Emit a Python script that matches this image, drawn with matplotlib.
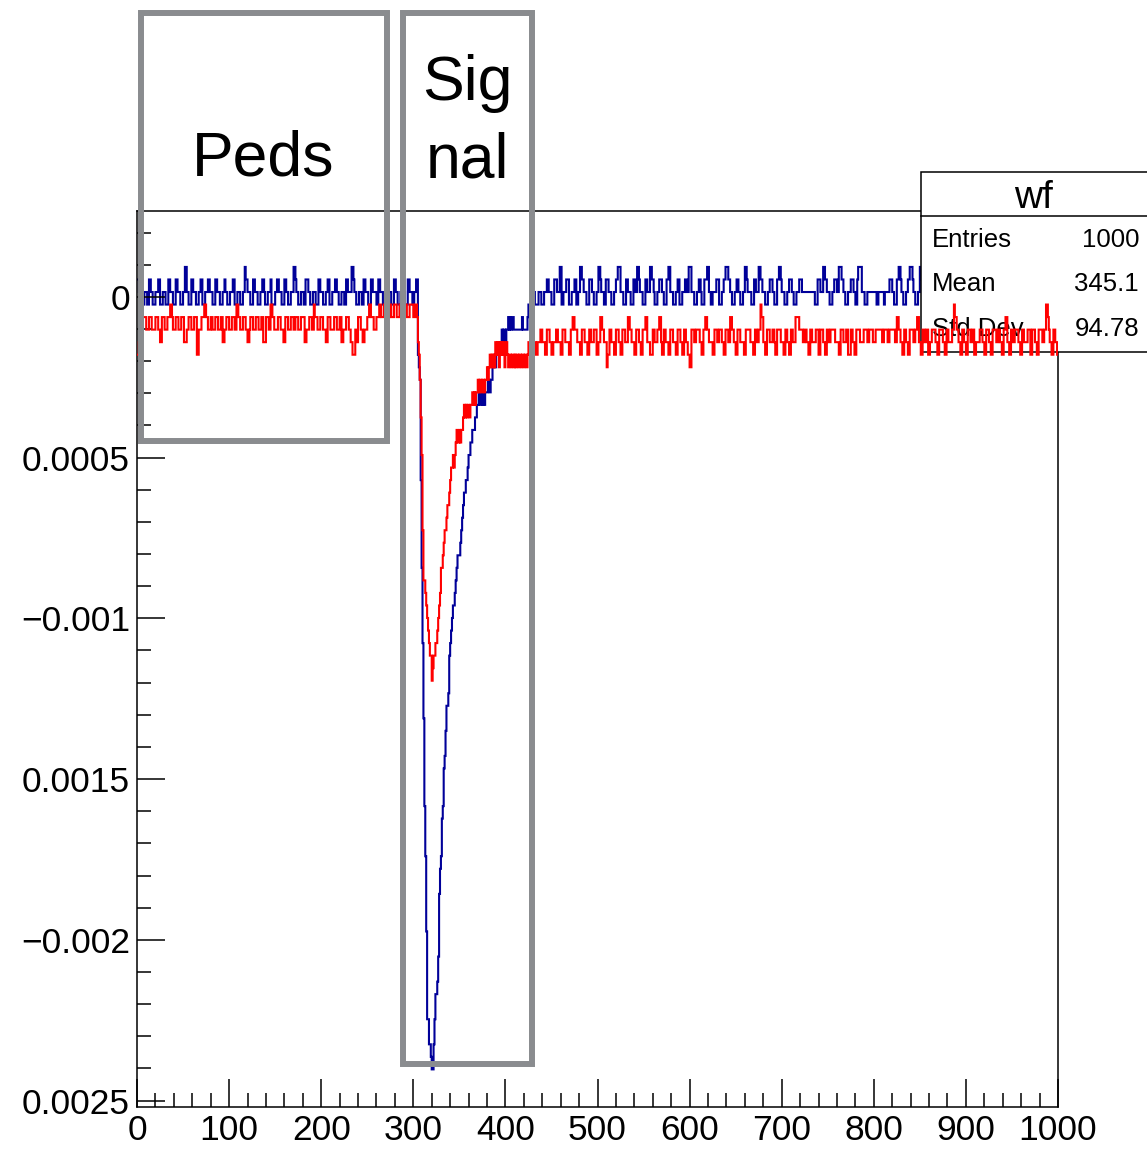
import numpy as np
import matplotlib
matplotlib.use('Agg')
import matplotlib.pyplot as plt
from matplotlib.patches import Rectangle
from matplotlib.lines import Line2D
from matplotlib.ticker import MultipleLocator

plt.rcParams['font.family'] = ['Liberation Sans', 'DejaVu Sans']

# waveform samples are stored as adc steps: value = OFFSET + k * STEP
OFFSET = 1.5e-5
STEP = 3.9e-5

# baseline noise, one digit per bin (blue: k = d - 3, red: k = d - 6)
BLUE_PRE = """
4433322233 3224433222 3334422233 3222443332 2244333222
3355332224 4333222334 4222333443 3322244333 2223343322
2333442223 3322233544 3332224433 3222334432 2233342222
3344333222 4433222333 5543322233 3224443322 2333222443
3322233442 2233344332 2233322443 3335543322 2333224433
3222443333 2244333222 3443332224 4332223344 3222443332
23344
"""
BLUE_POST = """
2222333222 2333222333 4433322244 4333552233 3444222333
4422335544 3332224443 3222335543 3322444333 2223344555
3332224433 3222443355 4333222443 3355443222 3344433222
4455333222 3344222333 4433555333 2223344322 2444553322
3333444222 3344555443 3222334433 2223355433 3322244333
5544333222 3344433222 4455433322 2334443322 2333444333
3333333333 3222444333 5544333222 3344433555 4433222333
4443322455 5533322233 3333333322 3333332333 3344433222
4455433222 3344555433 2223355443 3445566554 4433322334
4433322334 4433322334 4433322334 4433322334 4433322334
4433322334 4433322334 4433322334 4433322334 4433322334
4433322334 4433322334
43322
"""
RED_PRE = """
1122334444 3334443333 4443322444 3334445543 3344433344
4222334443 3344411333 4445544333 4433344433 3442233444
3334443355 4433344433 2234443334 4433344222 4443355443
3334443332 2444333444 3344433344 4422333444 3354443334
4433322444 3333444333 4422333444 3322111332 4443322333
4455444333 4445544455 4444554445 5544455444 5554445555
44554
"""
RED_POST = """
2211122211 2223322211 3332211222 3322211333 2222113344
3332221133 3222113322 2333112244 3322201133 2221133322
1133322244 3322211333 2211333442 2211133222 3344211332
2211333222 1133322113 3221100333 2233332211 3344332222
1133322333 2211333224 4332211333 2222113333 3222113322
3354422113 3322233211 3333222113 3221133222 4444333322
3322113322 2233311333 2211332233 3332222113 3322233111
3322113333 2222333322 3333222333 3333223333 2233333322
4433221133 2211333322 3344221133 2233112233 3322113333
2211332222 3354433221 1332211333 2233112222 3332211333
2211333322 3322113344 2211332233 3322113322 2233311333
2211333322 3355432211
33221
"""

# pulse, bins 305..424, adc steps
BLUE_PULSE = [-5, -6, -7, -15, -22, -28, -34, -41, -45, -51, -58, -58, -60, -60, -61, -62,
              -62, -60, -58, -56, -56, -55, -53, -48, -46, -45,
              -42, -41, -38, -37, -35, -33, -33, -32, -29, -28,
              -27, -26, -25, -25, -24, -23, -22, -21, -21, -21,
              -20, -19, -18, -17, -16, -16, -15, -15, -14, -13,
              -13, -12, -12, -11, -11, -11, -10, -10,
              -9, -9, -8, -9, -9, -8, -9,
              -8, -9, -8, -8, -8,
              -7, -7, -8, -7, -7, -6,
              -6, -5, -6, -5, -4, -5, -4, -4,
              -4, -3, -4, -3, -3, -4, -3, -3, -2, -3,
              -2, -3, -2, -2, -3,
              -3, -3, -3, -3, -3, -3, -3, -3, -2, -3, -3, -3, -3, -3, -2]
RED_PULSE = [-4, -5, -7, -10, -13, -19, -23, -23, -24, -25, -26, -27, -28, -29,
             -29, -31, -30, -29, -29, -28, -28, -27, -26, -25, -24, -22, -22, -21, -20,
             -19, -19, -18, -17, -17, -16, -15, -14, -14, -13, -14, -13, -12, -11, -12,
             -12, -11, -12, -11, -11, -10, -9, -10, -9, -10,
             -9, -9, -10, -9, -9, -8, -9, -8, -9, -8,
             -8, -7, -8, -7, -7, -8, -7, -7, -8, -7,
             -7, -6, -7, -6, -5, -6, -5, -6, -5, -6,
             -4, -5, -4, -5, -6, -4, -5, -4, -5, -4,
             -6, -5, -4, -5, -6, -5, -5, -6, -5, -5,
             -6, -5, -6, -5, -5, -6, -5, -5, -6, -5,
             -5, -6, -5, -5, -6, -5]

yticks = [0, -0.0005, -0.001, -0.0015, -0.002, -0.0025]
ytick_labels = ['0', '0.0005', '\u22120.001', '0.0015', '\u22120.002', '0.0025']
xticks = list(range(0, 1001, 100))

stats_names = ['Entries', 'Mean', 'Std Dev']
stats_values = ['1000', '345.1', '94.78']


def digits(s, zero):
    return [int(c) - zero for c in ''.join(s.split())]


blue_k = digits(BLUE_PRE, 3) + BLUE_PULSE + digits(BLUE_POST, 3)
red_k = digits(RED_PRE, 6) + RED_PULSE + digits(RED_POST, 6)
assert len(blue_k) == 1000, (len(digits(BLUE_PRE, 3)), len(digits(BLUE_POST, 3)))
assert len(red_k) == 1000, (len(digits(RED_PRE, 6)), len(digits(RED_POST, 6)))
blue = OFFSET + STEP * np.array(blue_k)
red = OFFSET + STEP * np.array(red_k)
edges = np.arange(0, 1001)

W, H = 1147, 1150
BLUE = '#000099'
RED = '#ff0000'
GRAY = '#8a8c8f'


def fx(x):
    return x / W


def fy(y):
    return 1 - y / H


fig = plt.figure(figsize=(W / 100, H / 100), dpi=100)
ax = fig.add_axes([fx(137), fy(1107), fx(1058) - fx(137), fy(211) - fy(1107)])

ax.stairs(blue, edges, baseline=None, color=BLUE, lw=1.5, zorder=1.5)
ax.stairs(red, edges, baseline=None, color=RED, lw=1.5, zorder=4)
ax.set_xlim(0, 1000)
ax.set_ylim(-0.00252, 0.000267)

ax.set_yticks(yticks)
ax.set_yticklabels(ytick_labels)
ax.yaxis.set_minor_locator(MultipleLocator(0.0001))
ax.set_xticks(xticks)
ax.set_xticklabels([str(t) for t in xticks])
ax.xaxis.set_minor_locator(MultipleLocator(20))
ax.tick_params(which='both', direction='in', top=False, right=False, width=1.1)
ax.tick_params(which='major', length=20, labelsize=25.5, pad=5)
ax.tick_params(which='minor', length=10)
for sp in ax.spines.values():
    sp.set_linewidth(1.1)

# stats box (blue runs under it, red over it)
box = Rectangle((fx(921), fy(352)), fx(1170) - fx(921), fy(172) - fy(352),
                transform=fig.transFigure, fc='white', ec='black', lw=1.1,
                clip_on=False, zorder=3)
ax.add_artist(box)
sep = Line2D([fx(921), fx(1170)], [fy(216), fy(216)], transform=fig.transFigure,
             color='black', lw=1.1, clip_on=False, zorder=3.2)
ax.add_artist(sep)
ax.text(fx(1034), fy(208), 'wf', transform=fig.transFigure, ha='center',
        va='baseline', fontsize=28, zorder=3.5)
for i, (n, v) in enumerate(zip(stats_names, stats_values)):
    yb = 247 + i * 44.5
    ax.text(fx(932), fy(yb), n, transform=fig.transFigure, ha='left',
            va='baseline', fontsize=18.5, zorder=3.5)
    ax.text(fx(1139), fy(yb), v, transform=fig.transFigure, ha='right',
            va='baseline', fontsize=18.5, zorder=3.5)

# region boxes
for (x0, x1, y0, y1) in [(141, 387, 13, 441), (402.5, 531.5, 13, 1064)]:
    fig.add_artist(Rectangle((fx(x0), fy(y1)), fx(x1) - fx(x0), fy(y0) - fy(y1),
                             transform=fig.transFigure, fill=False, ec=GRAY,
                             lw=4.3, zorder=5))
fig.text(fx(263), fy(175), 'Peds', ha='center', va='baseline', fontsize=45)
fig.text(fx(467), fy(100), 'Sig', ha='center', va='baseline', fontsize=45)
fig.text(fx(467), fy(177), 'nal', ha='center', va='baseline', fontsize=45)

fig.savefig('out.png', dpi=100)
